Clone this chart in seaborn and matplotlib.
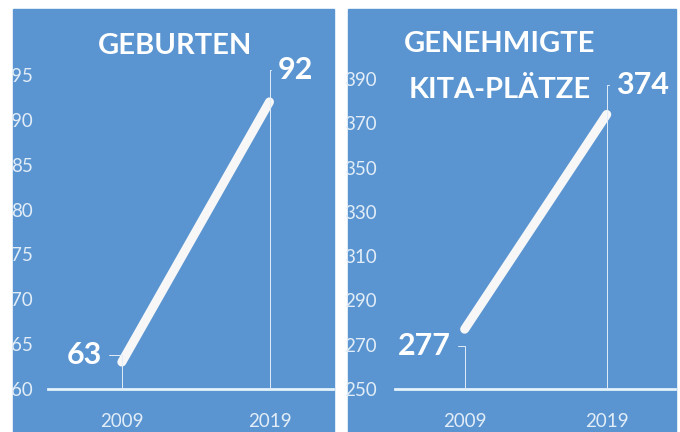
import matplotlib
matplotlib.use("Agg")
import matplotlib.pyplot as plt
from matplotlib.patches import Rectangle
from matplotlib.transforms import offset_copy
import pandas as pd
import seaborn as sns

# data
years = ["2009", "2019"]
geburten = [63, 92]
kita_plaetze = [277, 374]

geburten_ticks = [60, 65, 70, 75, 80, 85, 90, 95]
kita_ticks = [250, 270, 290, 310, 330, 350, 370, 390]

titles = ["GEBURTEN", "GENEHMIGTE\nKITA-PLÄTZE"]

sns.set_style("white")
plt.rcParams["font.family"] = ["Lato", "DejaVu Sans"]

BLUE = "#5a95d1"
LIGHT = "#e2edf7"
W, H = 680, 432

fig = plt.figure(figsize=(6.8, 4.32), dpi=100)
fig.patch.set_facecolor("white")


def px(l, t, r, b):
    # pixel box (from top-left) -> figure fraction [left, bottom, width, height]
    return [l / W, 1 - b / H, (r - l) / W, (b - t) / H]


# the two blue panels (drawn below the axes)
for l, r in [(13, 334), (348, 676)]:
    fig.patches.append(Rectangle((l / W, 0), (r - l) / W, 1 - 9 / H,
                                 transform=fig.transFigure, color=BLUE, zorder=-10))

ax1 = fig.add_axes(px(48, 48, 333, 389))
ax2 = fig.add_axes(px(395, 48, 675, 389))

panels = [
    (ax1, geburten, geburten_ticks, (60, 98), (-0.5, 1.43),
     [(-27, 5), (19, 23)], (175, 46), 11),
    (ax2, kita_plaetze, kita_ticks, (250, 404), (-0.49, 1.48),
     [(-29, -12), (26, 21)], (500, 67), 13),
]

for i, (ax, vals, ticks, ylim, xlim, offs, tpos, ypad) in enumerate(panels):
    ax.patch.set_visible(False)
    df = pd.DataFrame({"x": range(len(years)), "y": vals})
    sns.lineplot(data=df, x="x", y="y", ax=ax, color="#f7f7f7", lw=6.5,
                 solid_capstyle="round", zorder=3)
    ax.set_ylim(*ylim)
    ax.set_xlim(*xlim)
    ax.set_yticks(ticks)
    ax.set_xticks(range(len(years)))
    ax.set_xticklabels(years)
    ax.set_xlabel("")
    ax.set_ylabel("")
    ax.tick_params(axis="y", length=0, pad=ypad, labelsize=13.5, labelcolor=LIGHT)
    ax.tick_params(axis="x", length=0, pad=17, labelsize=13.5, labelcolor=LIGHT)
    for s in ["top", "right", "left"]:
        ax.spines[s].set_visible(False)
    ax.spines["bottom"].set_color("#e4f3fb")
    ax.spines["bottom"].set_linewidth(2)
    ax.grid(False)

    # value labels with elbow leader lines down to the axis
    for j, v in enumerate(vals):
        dx, dy = offs[j]
        tr = offset_copy(ax.transData, fig=fig, x=dx, y=dy, units="points")
        ax.annotate(str(v), xy=(j, ylim[0]), xytext=(j, v), textcoords=tr,
                    ha="center", va="center", fontsize=22, fontweight="bold",
                    color="white",
                    arrowprops=dict(arrowstyle="-", color=LIGHT, lw=0.7,
                                    shrinkA=3, shrinkB=0,
                                    connectionstyle="angle,angleA=0,angleB=90,rad=0"),
                    annotation_clip=False, zorder=4)

    fig.text(tpos[0] / W, 1 - tpos[1] / H, titles[i], ha="center", va="center",
             fontsize=21, fontweight="bold", color="white", linespacing=1.95)

fig.savefig("out.png", dpi=100, facecolor="white")
